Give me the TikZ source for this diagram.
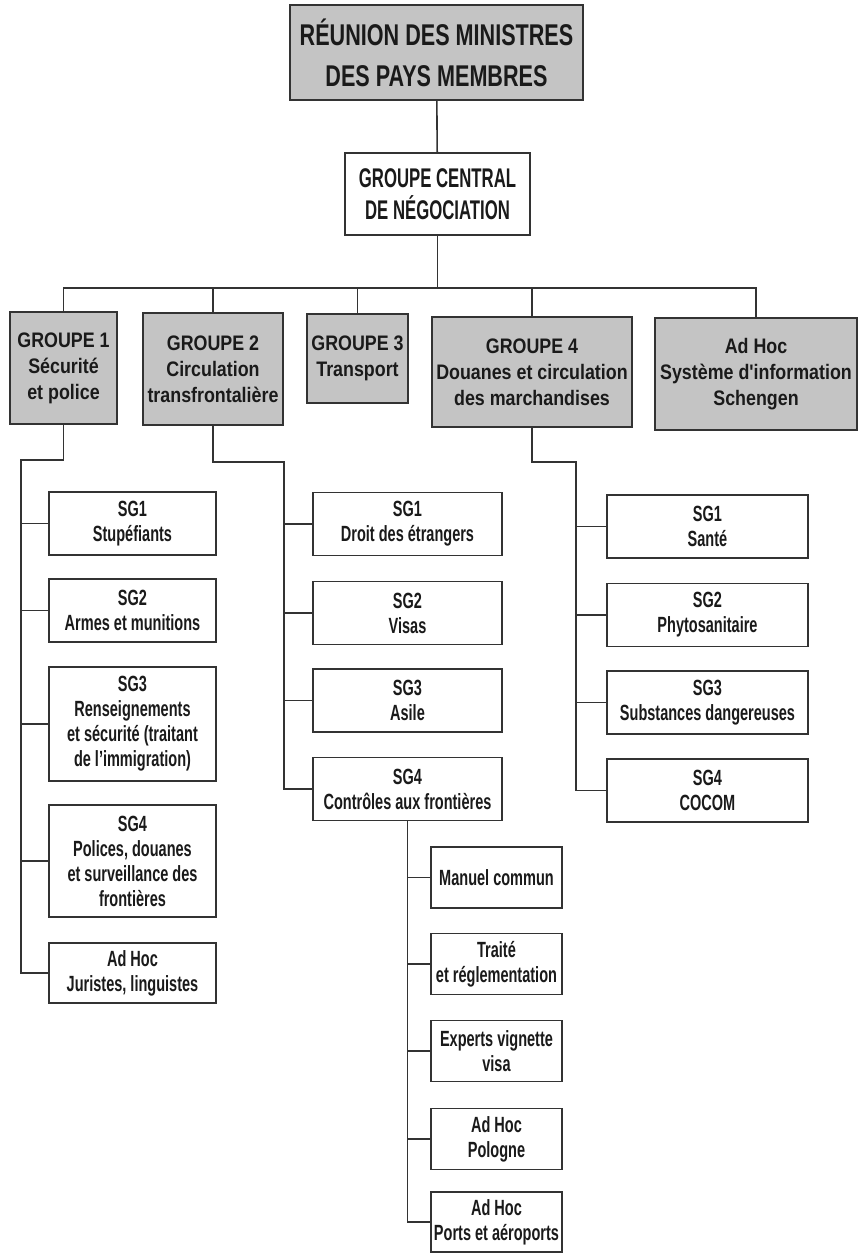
\documentclass[tikz,border=0pt]{standalone}
\usepackage{fontspec}
\setmainfont{Liberation Sans}
\newfontfamily\condf{Liberation Sans Bold}[FakeStretch=0.66]
\newfontfamily\cenf{Liberation Sans Bold}[FakeStretch=0.62]
\newfontfamily\topf{Liberation Sans Bold}[FakeStretch=0.72]
\newfontfamily\grpf{Liberation Sans Bold}[FakeStretch=0.85]
\definecolor{boxgray}{HTML}{C4C4C4}
\definecolor{linec}{HTML}{333333}
\definecolor{textc}{HTML}{1A1A1A}
\begin{document}
\begin{tikzpicture}[x=1pt,y=-1pt,
  conn/.style={draw=linec, line width=1.6pt},
  gbox/.style={draw=linec, line width=1.8pt, fill=boxgray, align=center, inner sep=0pt, text=textc,
    font=\grpf\fontsize{21}{26}\selectfont},
  wbox/.style={draw=linec, line width=1.5pt, fill=white, align=center, inner sep=0pt, text=textc,
    font=\condf\fontsize{22}{25}\selectfont},
  topbox/.style={gbox, font=\topf\fontsize{30}{41}\selectfont},
  cbox/.style={wbox, line width=1.8pt, font=\cenf\fontsize{27}{32}\selectfont},
  sub1/.style={wbox, minimum width=167, minimum height=63},
  sub2/.style={wbox, minimum width=189, minimum height=63},
  sub3/.style={wbox, minimum width=131, minimum height=61},
  sub4/.style={wbox, minimum width=201, minimum height=63}]
\useasboundingbox (0,0) rectangle (865,1254);
\fill[white] (0,0) rectangle (865,1254);

% top levels
\node[topbox, minimum width=293, minimum height=95] (top) at (436.5,52.5) {RÉUNION DES MINISTRES\\DES PAYS MEMBRES};
\node[cbox, minimum width=185, minimum height=82] (central) at (437.5,194) {GROUPE CENTRAL\\DE NÉGOCIATION};

\node[gbox, minimum width=107, minimum height=112] (g1) at (63.5,368) {GROUPE 1\\Sécurité\\et police};
\node[gbox, minimum width=140, minimum height=112] (g2) at (213,369) {GROUPE 2\\Circulation\\transfrontalière};
\node[gbox, minimum width=101, minimum height=89] (g3) at (357.5,358.5) {GROUPE 3\\Transport};
\node[gbox, minimum width=200, minimum height=110] (g4) at (532,372) {GROUPE 4\\Douanes et circulation\\des marchandises};
\node[gbox, minimum width=202, minimum height=112] (ah) at (756,374) {Ad Hoc\\Système d'information\\Schengen};

\coordinate (bus) at (437.5,288);
\draw[conn] (top) -- (central);
\draw[conn] (central.south) -- (bus);
\draw[conn] (bus) -| (g1.north);
\draw[conn] (bus) -| (g2.north);
\draw[conn] (bus) -| (g3.north);
\draw[conn] (bus) -| (g4.north);
\draw[conn] (bus) -| (ah.north);

% Groupe 1 children
\node[sub1] (a1) at (132.5,523.5) {SG1\\Stupéfiants};
\node[sub1] (a2) at (132.5,610.5) {SG2\\Armes et munitions};
\node[sub1, minimum height=114] (a3) at (132.5,724) {SG3\\Renseignements\\et sécurité (traitant\\de l’immigration)};
\node[sub1, minimum height=112] (a4) at (132.5,861) {SG4\\Polices, douanes\\et surveillance des\\frontières};
\node[sub1, minimum height=60] (a5) at (132.5,973) {Ad Hoc\\Juristes, linguistes};
\coordinate (ab) at (21,460);
\draw[conn] (g1.south) |- (ab) |- (a5.west);
\foreach \n in {a1,a2,a3,a4} \draw[conn] (\n.west) -- (\n.west -| ab);

% Groupe 2 children
\node[sub2] (b1) at (407.5,524) {SG1\\Droit des étrangers};
\node[sub2] (b2) at (407.5,613) {SG2\\Visas};
\node[sub2] (b3) at (407.5,700.5) {SG3\\Asile};
\node[sub2] (b4) at (407.5,789) {SG4\\Contrôles aux frontières};
\coordinate (bb) at (284,462);
\draw[conn] (g2.south) |- (bb) |- (b4.west);
\foreach \n in {b1,b2,b3} \draw[conn] (\n.west) -- (\n.west -| bb);

% SG4 (Groupe 2) children
\node[sub3] (c1) at (496.5,877.5) {Manuel commun};
\node[sub3] (c2) at (496.5,964) {Traité\\et réglementation};
\node[sub3] (c3) at (496.5,1051) {Experts vignette\\visa};
\node[sub3] (c4) at (496.5,1139) {Ad Hoc\\Pologne};
\node[sub3, minimum height=60] (c5) at (496.5,1222) {Ad Hoc\\Ports et aéroports};
\draw[conn] (b4.south) |- (c5.west);
\foreach \n in {c1,c2,c3,c4} \draw[conn] (\n.west) -- (\n.west -| b4.south);

% Groupe 4 children
\node[sub4] (d1) at (707.5,526.5) {SG1\\Santé};
\node[sub4] (d2) at (707.5,615) {SG2\\Phytosanitaire};
\node[sub4] (d3) at (707.5,702.5) {SG3\\Substances dangereuses};
\node[sub4] (d4) at (707.5,790.5) {SG4\\COCOM};
\coordinate (db) at (576,462);
\draw[conn] (g4.south) |- (db) |- (d4.west);
\foreach \n in {d1,d2,d3} \draw[conn] (\n.west) -- (\n.west -| db);
\end{tikzpicture}
\end{document}
